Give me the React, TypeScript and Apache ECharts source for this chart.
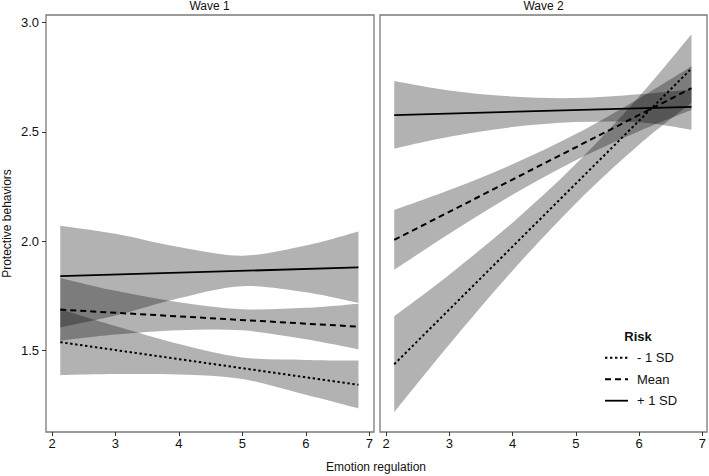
import React, { useEffect, useRef } from "react";
import * as echarts from "echarts";

// ---- data ----
const bandX = [2.13, 3, 4, 5, 6, 6.83];
const lineX = [2.13, 6.83];

// Wave 1
const w1HighUpper = [2.071, 2.034, 1.973, 1.934, 1.98, 2.044];
const w1HighLower = [1.606, 1.66, 1.739, 1.794, 1.766, 1.717];
const w1MeanUpper = [1.832, 1.773, 1.721, 1.689, 1.695, 1.714];
const w1MeanLower = [1.545, 1.573, 1.593, 1.592, 1.551, 1.505];
const w1LowUpper = [1.689, 1.612, 1.53, 1.468, 1.457, 1.454];
const w1LowLower = [1.387, 1.392, 1.39, 1.369, 1.297, 1.235];
const w1High = [1.84, 1.88];
const w1Mean = [1.687, 1.609];
const w1Low = [1.538, 1.343];

// Wave 2
const w2HighUpper = [2.733, 2.69, 2.662, 2.655, 2.672, 2.694];
const w2HighLower = [2.424, 2.478, 2.522, 2.545, 2.544, 2.51];
const w2MeanUpper = [2.143, 2.234, 2.352, 2.49, 2.653, 2.8];
const w2MeanLower = [1.869, 2.034, 2.212, 2.37, 2.503, 2.6];
const w2LowUpper = [1.657, 1.847, 2.085, 2.353, 2.661, 2.947];
const w2LowLower = [1.217, 1.527, 1.865, 2.173, 2.441, 2.633];
const w2High = [2.577, 2.615];
const w2Mean = [2.006, 2.7];
const w2Low = [1.437, 2.79];

const xTicks = [2, 3, 4, 5, 6, 7];
const yTicks = [1.5, 2.0, 2.5, 3.0];
const panelTitles = ["Wave 1", "Wave 2"];
const riskNames = ["- 1 SD", "Mean", "+ 1 SD"];

const FONT = "'Liberation Sans', Arial, Helvetica, sans-serif";
const BAND = "rgba(0,0,0,0.3)";
const TXT = "#111";

const styles: Record<string, any> = {
  "- 1 SD": { type: [2.4, 2.6], width: 2 },
  Mean: { type: [6, 4], width: 2 },
  "+ 1 SD": { type: "solid", width: 1.8 },
};

function smoothD(pts: number[][], start: boolean) {
  // Catmull-Rom -> cubic bezier through the given pixel points
  let d = (start ? "M" : "L") + pts[0][0] + "," + pts[0][1];
  for (let i = 0; i < pts.length - 1; i++) {
    const p0 = pts[Math.max(0, i - 1)];
    const p1 = pts[i];
    const p2 = pts[i + 1];
    const p3 = pts[Math.min(pts.length - 1, i + 2)];
    const c1x = p1[0] + (p2[0] - p0[0]) / 6;
    const c1y = p1[1] + (p2[1] - p0[1]) / 6;
    const c2x = p2[0] - (p3[0] - p1[0]) / 6;
    const c2y = p2[1] - (p3[1] - p1[1]) / 6;
    d += "C" + c1x + "," + c1y + " " + c2x + "," + c2y + " " + p2[0] + "," + p2[1];
  }
  return d;
}

function bandSeries(idx: number, lower: number[], upper: number[]) {
  return {
    type: "custom",
    coordinateSystem: "cartesian2d",
    xAxisIndex: idx,
    yAxisIndex: idx,
    silent: true,
    z: 1,
    data: [[bandX[0], lower[0]]],
    renderItem: (_p: any, api: any) => {
      const up = bandX.map((x, i) => api.coord([x, upper[i]]));
      const lo = bandX.map((x, i) => api.coord([x, lower[i]])).reverse();
      const d = smoothD(up, true) + smoothD(lo, false) + "Z";
      return { type: "path", shape: { pathData: d }, style: { fill: BAND, stroke: null } };
    },
  };
}

function lineSeries(idx: number, name: string, vals: number[]) {
  return {
    type: "line",
    name,
    xAxisIndex: idx,
    yAxisIndex: idx,
    symbol: "none",
    silent: true,
    data: lineX.map((x, i) => [x, vals[i]]),
    lineStyle: { color: "#000", ...styles[name] },
    itemStyle: { color: "#000" },
    z: 3,
  };
}

export default function App() {
  const ref = useRef<HTMLDivElement>(null);
  useEffect(() => {
    if (!ref.current) return;
    const chart = echarts.init(ref.current, undefined, { renderer: "svg" });
    const grids = [
      { left: 45, top: 15, width: 329, height: 417 },
      { left: 380, top: 15, width: 327, height: 417 },
    ];
    const xAxes = grids.map((_, i) => ({
      type: "value",
      gridIndex: i,
      min: 1.905,
      max: 7.075,
      axisLine: { show: false },
      splitLine: { show: false },
      axisTick: {
        show: true,
        length: 4,
        customValues: xTicks,
        lineStyle: { color: "#333", width: 1 },
      },
      axisLabel: {
        customValues: xTicks,
        margin: 5,
        color: TXT,
        fontSize: 13,
        fontFamily: FONT,
        formatter: (v: number) => String(v),
      },
    }));
    const yAxes = grids.map((_, i) => ({
      type: "value",
      gridIndex: i,
      min: 1.127,
      max: 3.035,
      axisLine: { show: false },
      splitLine: { show: false },
      name: i === 0 ? "Protective behaviors" : "",
      nameLocation: "middle",
      nameGap: 33,
      nameRotate: 90,
      nameTextStyle: { color: TXT, fontSize: 12, fontFamily: FONT },
      axisTick: {
        show: i === 0,
        length: 4,
        customValues: yTicks,
        lineStyle: { color: "#333", width: 1 },
      },
      axisLabel: {
        show: i === 0,
        customValues: yTicks,
        margin: 7,
        color: TXT,
        fontSize: 13,
        fontFamily: FONT,
        formatter: (v: number) => v.toFixed(1),
      },
    }));

    const series: any[] = [
      bandSeries(0, w1HighLower, w1HighUpper),
      bandSeries(0, w1MeanLower, w1MeanUpper),
      bandSeries(0, w1LowLower, w1LowUpper),
      bandSeries(1, w2HighLower, w2HighUpper),
      bandSeries(1, w2MeanLower, w2MeanUpper),
      bandSeries(1, w2LowLower, w2LowUpper),
      lineSeries(0, "+ 1 SD", w1High),
      lineSeries(0, "Mean", w1Mean),
      lineSeries(0, "- 1 SD", w1Low),
      lineSeries(1, "+ 1 SD", w2High),
      lineSeries(1, "Mean", w2Mean),
      lineSeries(1, "- 1 SD", w2Low),
    ];

    const legendY = [357.7, 379.3, 400.7];
    const legendEls: any[] = [];
    riskNames.forEach((n, i) => {
      const st = styles[n];
      legendEls.push({
        type: "line",
        shape: { x1: 605, y1: legendY[i], x2: 628, y2: legendY[i] },
        style: {
          stroke: "#000",
          lineWidth: st.width,
          lineDash: Array.isArray(st.type) ? st.type : null,
        },
      });
      legendEls.push({
        type: "text",
        x: 637,
        y: legendY[i],
        style: { text: n, fill: TXT, font: "13px " + FONT, verticalAlign: "middle" },
      });
    });

    chart.setOption({
      animation: false,
      backgroundColor: "#fff",
      title: panelTitles.map((t, i) => ({
        text: t,
        left: grids[i].left + grids[i].width / 2,
        top: 0,
        padding: 0,
        textAlign: "center",
        textStyle: { fontSize: 12, fontWeight: "normal", color: TXT, fontFamily: FONT },
      })),
      grid: grids.map((g) => ({
        ...g,
        show: true,
        borderColor: "#7a7a7a",
        borderWidth: 1.3,
        backgroundColor: "transparent",
      })),
      xAxis: xAxes,
      yAxis: yAxes,
      graphic: [
        {
          type: "text",
          x: 638,
          y: 336,
          style: {
            text: "Risk",
            fill: TXT,
            font: "bold 13px " + FONT,
            align: "center",
            verticalAlign: "middle",
          },
        },
        ...legendEls,
        {
          type: "text",
          x: 376,
          y: 467,
          style: {
            text: "Emotion regulation",
            fill: TXT,
            font: "12px " + FONT,
            align: "center",
            verticalAlign: "middle",
          },
        },
      ],
      series,
    });
    return () => chart.dispose();
  }, []);
  return (
    <div
      ref={ref}
      style={{ position: "fixed", left: 0, top: 0, width: 709, height: 476, background: "#fff" }}
    />
  );
}
